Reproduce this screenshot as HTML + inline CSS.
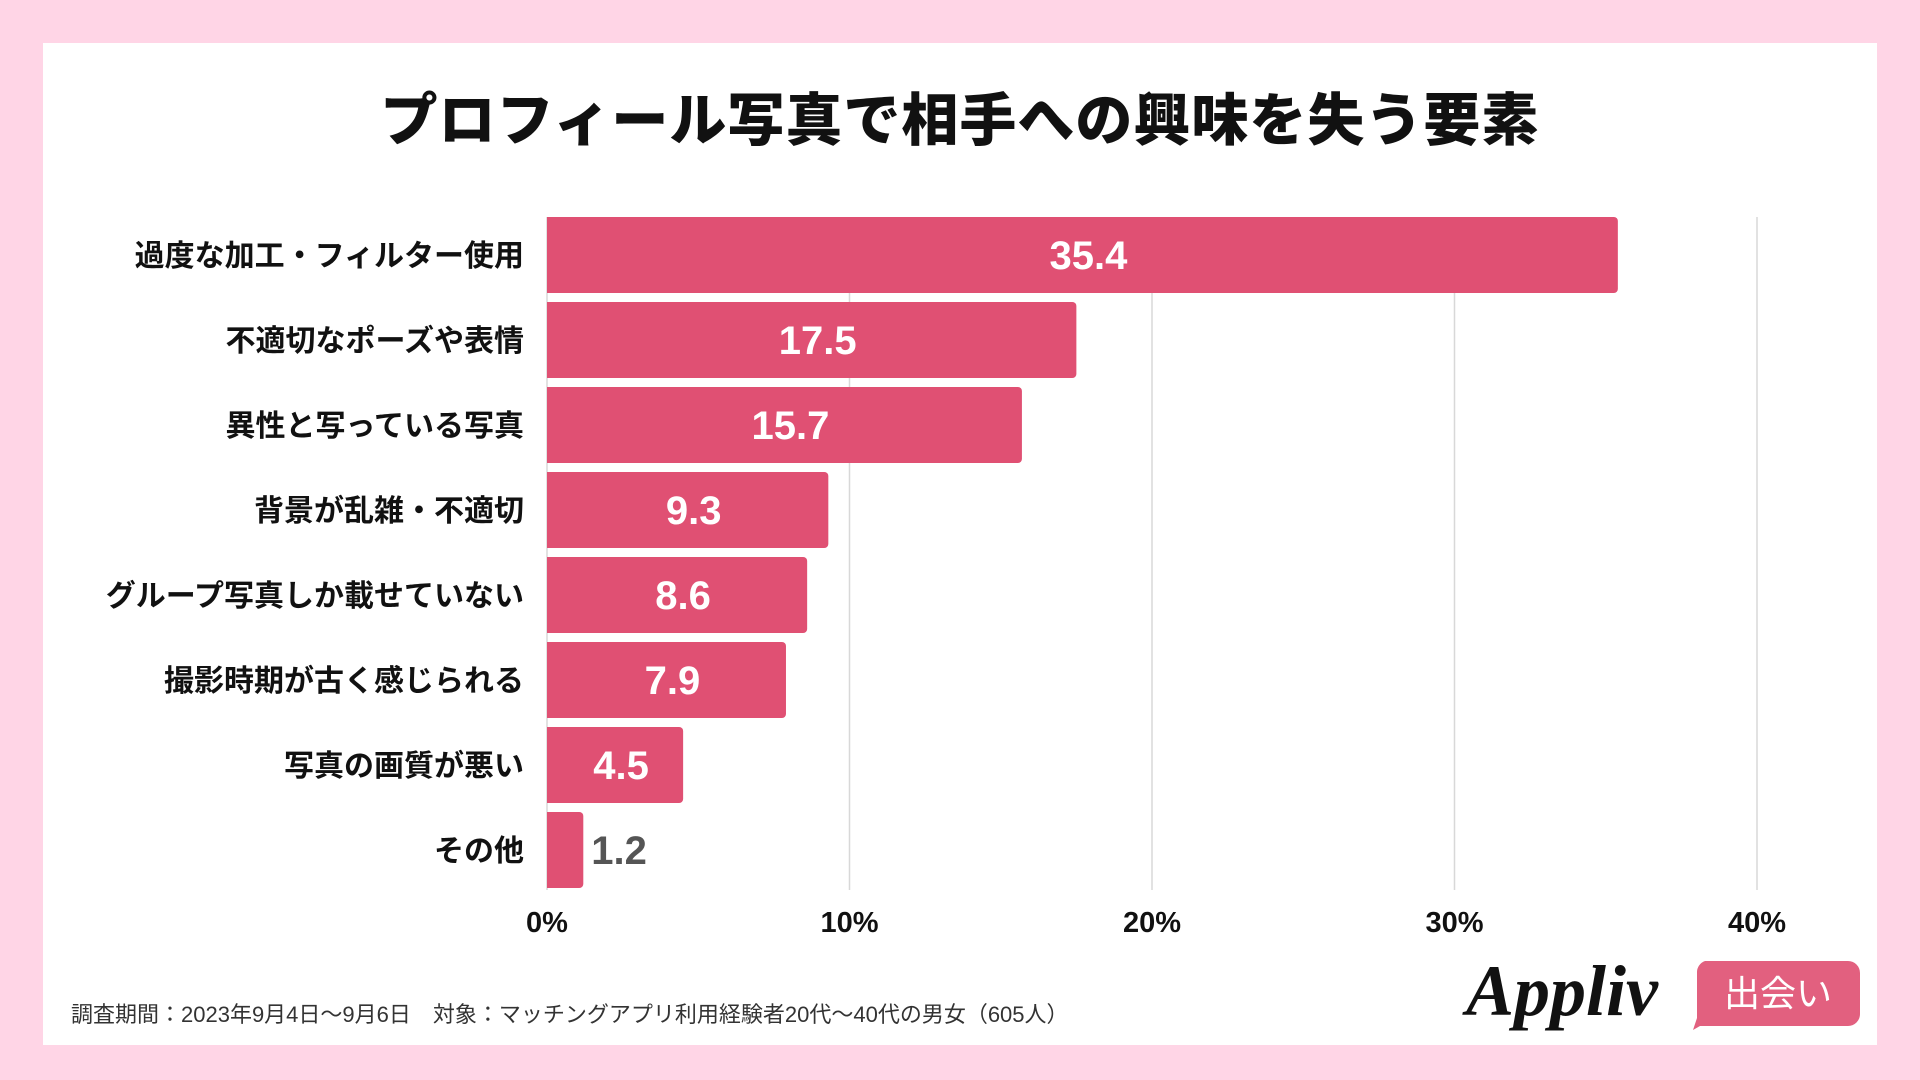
<!DOCTYPE html>
<html><head><meta charset="utf-8"><style>
body{margin:0;width:1920px;height:1080px;background:#ffd5e6;font-family:"Liberation Sans","Noto Sans CJK JP",sans-serif;overflow:hidden;position:relative}
#panel{position:absolute;left:43px;top:43px;width:1834px;height:1002px;background:#fff}
#title{position:absolute;left:0;width:1920px;top:75px;text-align:center;font-size:57px;font-weight:900;color:#111;letter-spacing:1px}
svg{position:absolute;left:0;top:0}
#foot{position:absolute;left:71px;top:997px;font-size:22px;color:#333}
</style></head><body>
<div id="panel"></div>
<div id="title">プロフィール写真で相手への興味を失う要素</div>
<svg id="chart" width="1920" height="1080"></svg>
<div id="foot">調査期間：2023年9月4日〜9月6日　対象：マッチングアプリ利用経験者20代〜40代の男女（605人）</div>
<svg width="1920" height="1080">
<text x="1466" y="1015" font-family="Liberation Serif,serif" font-style="italic" font-weight="bold" font-size="72" fill="#111">Appliv</text>
<path d="M1705 961 H1848 a12 12 0 0 1 12 12 V1014 a12 12 0 0 1 -12 12 H1700 L1693 1030 L1697 1018 V973 a12 12 0 0 1 8 -12Z" fill="#e2607f"/>
<text x="1778" y="1006" text-anchor="middle" font-size="36" fill="#fff" font-family="Liberation Sans,Noto Sans CJK JP,sans-serif">出会い</text>
</svg>
<script>
const categories=["過度な加工・フィルター使用","不適切なポーズや表情","異性と写っている写真","背景が乱雑・不適切","グループ写真しか載せていない","撮影時期が古く感じられる","写真の画質が悪い","その他"];
const values=[35.4,17.5,15.7,9.3,8.6,7.9,4.5,1.2];
const ticks=[0,10,20,30,40];
const tickLabels=["0%","10%","20%","30%","40%"];
const NS="http://www.w3.org/2000/svg";
const svg=document.getElementById('chart');
const x0=547,x1=1757,top0=217,pitch=85,bh=76;
const xs=v=>x0+(v-0)/(40-0)*(x1-x0);
const ys=i=>top0+i*pitch;
function mk(t,a){const e=document.createElementNS(NS,t);for(const k in a)e.setAttribute(k,a[k]);svg.appendChild(e);return e;}
ticks.forEach((t,i)=>{
 const g=mk('line',{x1:xs(t),x2:xs(t),y1:top0,y2:ys(categories.length-1)+bh+2,stroke:'#d8d8d8','stroke-width':1.5});
 
 
 const l=mk('text',{x:xs(t),y:932,'text-anchor':'middle','font-size':29,'font-weight':'bold',fill:'#111'});
 l.textContent=tickLabels[i];
 
 
});
categories.forEach((c,i)=>{
 const y=ys(i),w=xs(values[i])-x0;
 const r=mk('path',{d:`M${x0} ${y} H${x0+w-4} a4 4 0 0 1 4 4 V${y+bh-4} a4 4 0 0 1 -4 4 H${x0}Z`,fill:'#e05073'});
 
 
 const l=mk('text',{x:524,y:y+bh/2+11,'text-anchor':'end','font-size':30,'font-weight':'bold',fill:'#111'});
 l.textContent=c;
 
 
 const inside=w>60;
 const v=mk('text',{x:inside?x0+w/2+6:x0+w+8,y:y+bh/2+14,'text-anchor':inside?'middle':'start','font-size':40,'font-weight':'bold',fill:inside?'#fff':'#555'});
 v.textContent=values[i].toFixed(1);
 
 
});
</script>
</body></html>
